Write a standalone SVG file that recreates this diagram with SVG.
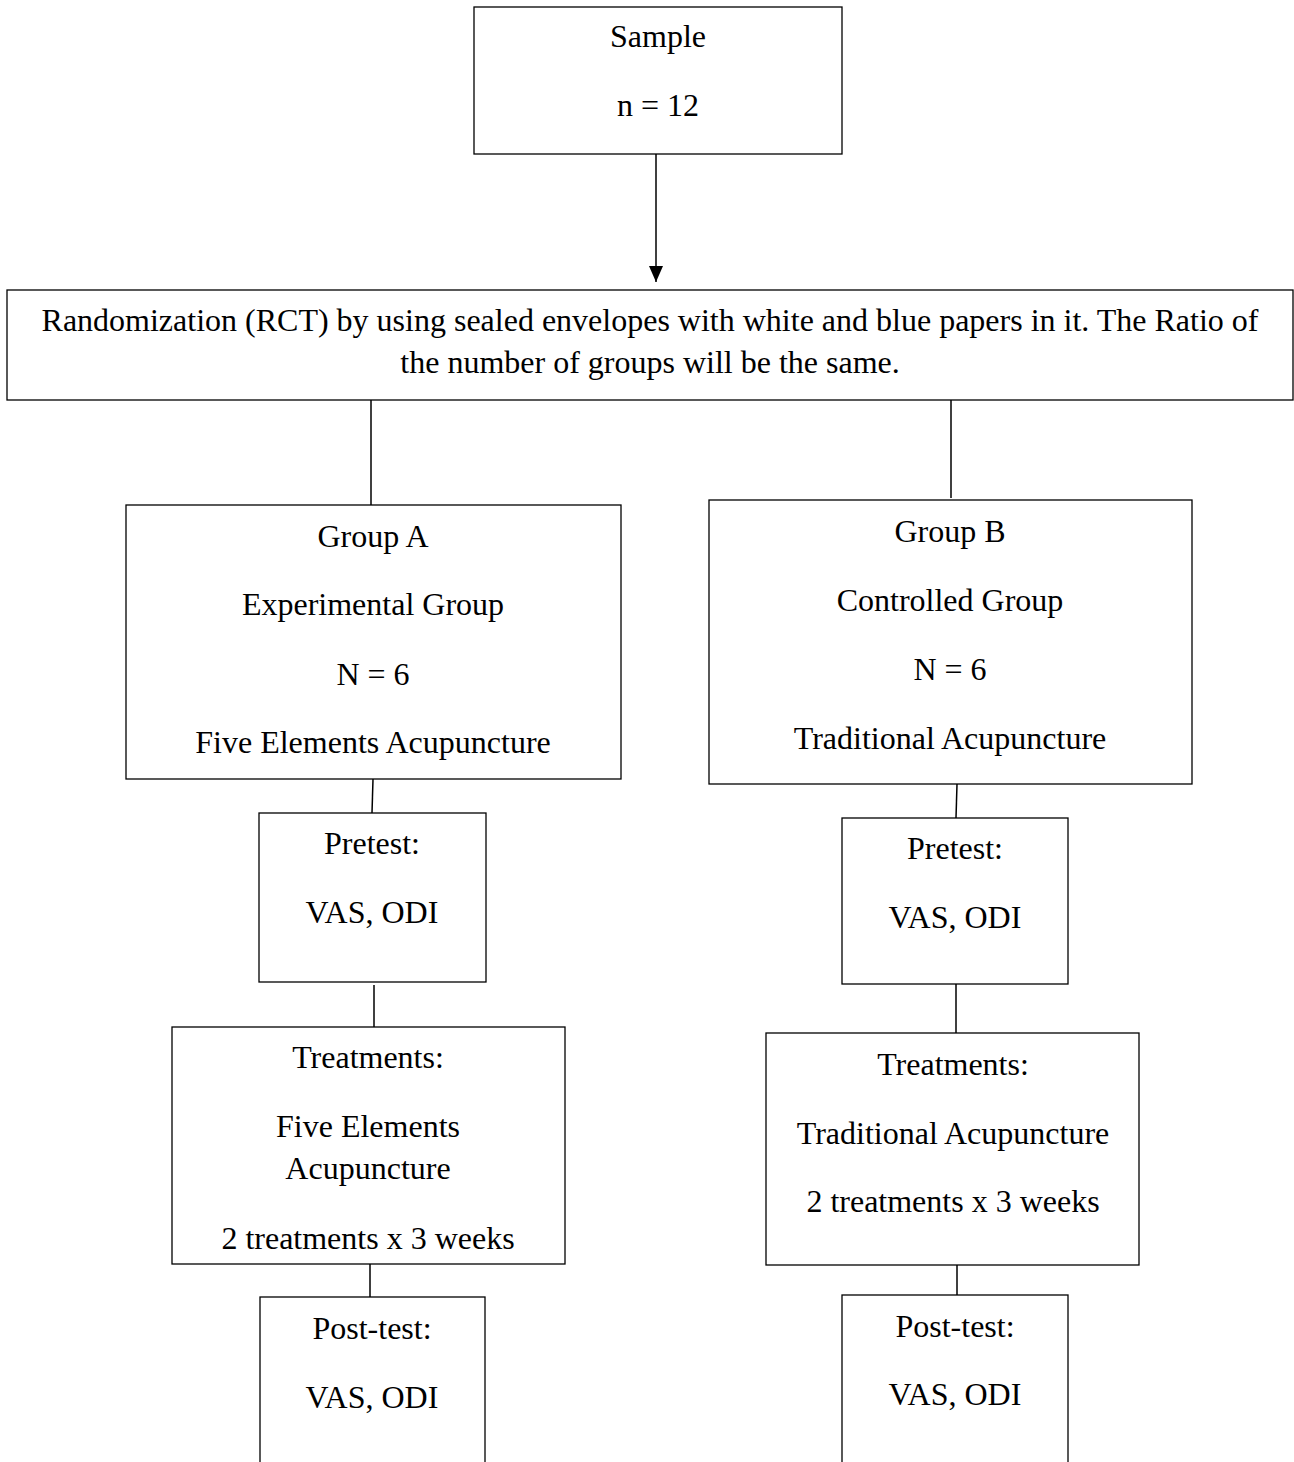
<svg xmlns="http://www.w3.org/2000/svg" width="1294" height="1462" viewBox="0 0 1294 1462">
<style>
.box{fill:#fff;stroke:#000;stroke-width:1.3}
.ln{stroke:#000;stroke-width:1.5;fill:none}
text{font-family:"Liberation Serif","Times New Roman",serif;font-size:32px;fill:#000;text-anchor:middle}
</style>
<defs>
<marker id="ah" markerWidth="16" markerHeight="14" refX="16" refY="7" orient="auto" markerUnits="userSpaceOnUse" viewBox="0 0 16 14">
<path d="M0,0 L16,7 L0,14 Z" fill="#000"/>
</marker>
</defs>
<rect width="1294" height="1462" fill="#fff"/>
<g id="connectors">
<line class="ln" x1="656" y1="154" x2="656" y2="282" marker-end="url(#ah)"/>
<line class="ln" x1="371" y1="400" x2="371" y2="505"/>
<line class="ln" x1="951" y1="400" x2="951" y2="498"/>
<line class="ln" x1="373" y1="779" x2="372" y2="813"/>
<line class="ln" x1="957" y1="784" x2="956" y2="818"/>
<line class="ln" x1="374" y1="985" x2="374" y2="1027"/>
<line class="ln" x1="956" y1="984" x2="956" y2="1033"/>
<line class="ln" x1="370" y1="1264" x2="370" y2="1297"/>
<line class="ln" x1="957" y1="1265" x2="957" y2="1295"/>
</g>
<g id="sample">
<rect class="box" x="474" y="7" width="368" height="147"/>
<text x="658" y="47">Sample</text>
<text x="658" y="116">n = 12</text>
</g>
<g id="randomization">
<rect class="box" x="7" y="290" width="1286" height="110"/>
<text x="650" y="331">Randomization (RCT) by using sealed envelopes with white and blue papers in it. The Ratio of</text>
<text x="650" y="373">the number of groups will be the same.</text>
</g>
<g id="groupA">
<rect class="box" x="126" y="505" width="495" height="274"/>
<text x="373" y="547">Group A</text>
<text x="373" y="615">Experimental Group</text>
<text x="373" y="685">N = 6</text>
<text x="373" y="753">Five Elements Acupuncture</text>
</g>
<g id="groupB">
<rect class="box" x="709" y="500" width="483" height="284"/>
<text x="950" y="542">Group B</text>
<text x="950" y="611">Controlled Group</text>
<text x="950" y="680">N = 6</text>
<text x="950" y="749">Traditional Acupuncture</text>
</g>
<g id="pretestA">
<rect class="box" x="259" y="813" width="227" height="169"/>
<text x="372" y="854">Pretest:</text>
<text x="372" y="923">VAS, ODI</text>
</g>
<g id="pretestB">
<rect class="box" x="842" y="818" width="226" height="166"/>
<text x="955" y="859">Pretest:</text>
<text x="955" y="928">VAS, ODI</text>
</g>
<g id="treatmentsA">
<rect class="box" x="172" y="1027" width="393" height="237"/>
<text x="368" y="1068">Treatments:</text>
<text x="368" y="1137">Five Elements</text>
<text x="368" y="1179">Acupuncture</text>
<text x="368" y="1249">2 treatments x 3 weeks</text>
</g>
<g id="treatmentsB">
<rect class="box" x="766" y="1033" width="373" height="232"/>
<text x="953" y="1075">Treatments:</text>
<text x="953" y="1144">Traditional Acupuncture</text>
<text x="953" y="1212">2 treatments x 3 weeks</text>
</g>
<g id="posttestA">
<rect class="box" x="260" y="1297" width="225" height="200"/>
<text x="372" y="1339">Post-test:</text>
<text x="372" y="1408">VAS, ODI</text>
</g>
<g id="posttestB">
<rect class="box" x="842" y="1295" width="226" height="200"/>
<text x="955" y="1337">Post-test:</text>
<text x="955" y="1405">VAS, ODI</text>
</g>
</svg>
